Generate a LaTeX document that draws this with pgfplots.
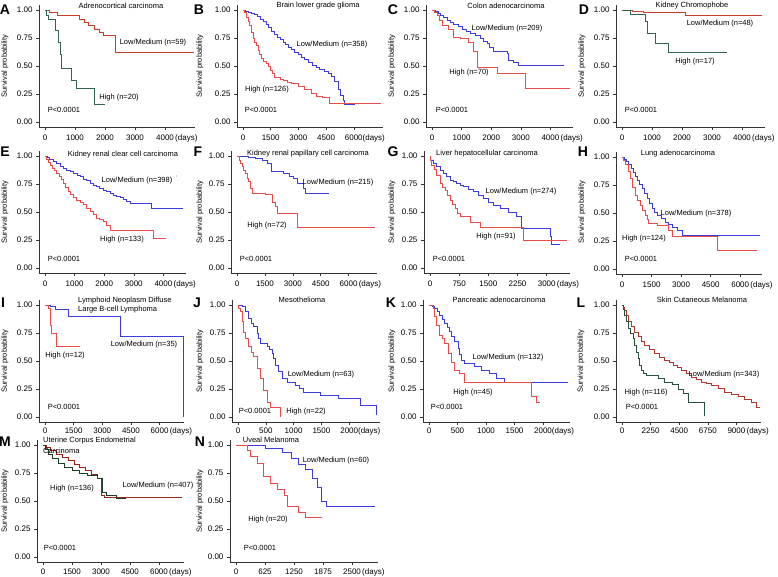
\documentclass[border=0pt]{standalone}
\usepackage{fontspec}
\setmainfont{Liberation Sans}
\usepackage{pgfplots}
\pgfplotsset{compat=1.18}
\definecolor{blueC}{RGB}{60,60,220}
\definecolor{redC}{RGB}{235,75,75}
\definecolor{adLow}{RGB}{200,60,40}
\definecolor{adHigh}{RGB}{50,100,80}
\definecolor{lLow}{RGB}{180,55,45}
\definecolor{lHigh}{RGB}{40,80,60}
\definecolor{mLow}{RGB}{150,35,25}
\definecolor{mHigh}{RGB}{30,60,40}
\newcommand{\lbl}{\fontsize{7.5}{8.5}\selectfont}
\newcommand{\tck}{\fontsize{8}{9}\selectfont}
\pgfplotsset{km/.style={
  axis x line*=bottom, axis y line*=left,
  ymin=-0.045, ymax=1.045, y=112pt,
  ytick={0,0.25,0.5,0.75,1},
  yticklabels={0.00,0.25,0.50,0.75,1.00},
  scaled x ticks=false, enlargelimits=false,
  /pgf/number format/assume math mode=true,
  tick align=outside, major tick length=3pt,
  tick style={black!80, line width=0.5pt},
  axis line style={black!80, line width=0.5pt},
  ticklabel style={font=\tck},
  xticklabel style={yshift=-1pt},
  anchor=origin, clip=false,
  every axis plot/.append style={line width=0.75pt, const plot, mark=none},
}}
\begin{document}
\begin{tikzpicture}
\useasboundingbox (0,0) rectangle (778pt,576pt);
% A
\begin{axis}[km, at={(45pt,454pt)}, x=0.030pt, xmin=-200, xmax=5000,
 xtick={0,1000,2000,3000,4000}, xticklabels={0,1000,2000,3000,\mbox{4000\rlap{\,(days)}}}]
\addplot[adLow] coordinates {(0,1)(150,0.98)(400,0.955)(1150,0.92)(1300,0.89)(1450,0.86)(1650,0.83)(1800,0.80)(1950,0.77)(2350,0.625)(4950,0.625)};
\addplot[adHigh] coordinates {(0,1)(50,0.95)(100,0.92)(330,0.82)(440,0.71)(500,0.60)(530,0.48)(890,0.375)(1055,0.30)(1630,0.16)(2000,0.16)};
\end{axis}
% B
\begin{axis}[km, at={(243pt,454pt)}, x=0.01847pt, xmin=-325, xmax=7600,
 xtick={0,1500,3000,4500,6000}, xticklabels={0,1500,3000,4500,\mbox{6000\rlap{(days)}}}]
\addplot[blueC] coordinates {(0,1)(150,0.99)(300,0.98)(450,0.97)(630,0.96)(800,0.94)(950,0.92)(1100,0.90)(1265,0.87)(1400,0.845)(1550,0.81)(1717,0.78)(1850,0.76)(2000,0.735)(2168,0.71)(2300,0.69)(2450,0.67)(2620,0.65)(2800,0.625)(2982,0.60)(3150,0.58)(3350,0.555)(3524,0.53)(3750,0.51)(3950,0.49)(4156,0.47)(4400,0.45)(4600,0.43)(4789,0.41)(4950,0.36)(5150,0.29)(5300,0.24)(5421,0.19)(5511,0.16)(6054,0.16)};
\addplot[redC] coordinates {(0,1)(90,0.976)(180,0.93)(270,0.90)(361,0.86)(450,0.80)(542,0.75)(630,0.71)(723,0.68)(810,0.64)(904,0.60)(1000,0.57)(1084,0.545)(1250,0.52)(1355,0.50)(1500,0.46)(1600,0.43)(1717,0.40)(2000,0.385)(2168,0.37)(2400,0.355)(2620,0.345)(3000,0.32)(3343,0.29)(3700,0.26)(3975,0.23)(4300,0.22)(4698,0.17)(7500,0.17)};
\end{axis}
% C
\begin{axis}[km, at={(432pt,454pt)}, x=0.0296pt, xmin=-200, xmax=4750,
 xtick={0,1000,2000,3000,4000}, xticklabels={0,1000,2000,3000,\mbox{4000\rlap{\,(days)}}}]
\addplot[blueC] coordinates {(0,1)(100,0.985)(200,0.97)(282,0.955)(400,0.93)(507,0.91)(620,0.89)(732,0.875)(880,0.85)(1014,0.83)(1150,0.81)(1296,0.79)(1450,0.77)(1634,0.746)(1750,0.72)(1860,0.70)(1950,0.67)(2085,0.627)(2535,0.61)(2592,0.55)(2750,0.53)(2930,0.507)(4450,0.507)};
\addplot[redC] coordinates {(0,1)(80,0.98)(170,0.955)(250,0.91)(338,0.866)(563,0.827)(732,0.76)(958,0.746)(1240,0.707)(1409,0.627)(1544,0.49)(2198,0.433)(3156,0.30)(4677,0.30)};
\end{axis}
% D
\begin{axis}[km, at={(622pt,454pt)}, x=0.030pt, xmin=-200, xmax=4750,
 xtick={0,1000,2000,3000,4000}, xticklabels={0,1000,2000,3000,\mbox{4000\rlap{\,(days)}}}]
\addplot[adLow] coordinates {(0,1)(330,0.99)(720,0.975)(2100,0.955)(4670,0.955)};
\addplot[adHigh] coordinates {(0,1)(280,0.965)(780,0.90)(860,0.79)(1110,0.70)(1560,0.62)(3500,0.62)};
\end{axis}
% E
\begin{axis}[km, at={(45pt,308pt)}, x=0.0296pt, xmin=-200, xmax=4750,
 xtick={0,1000,2000,3000,4000}, xticklabels={0,1000,2000,3000,\mbox{4000\rlap{\,(days)}}}]
\addplot[blueC] coordinates {(0,1)(80,0.985)(160,0.97)(282,0.95)(400,0.93)(520,0.91)(620,0.89)(732,0.875)(850,0.86)(960,0.845)(1080,0.83)(1183,0.816)(1300,0.795)(1400,0.78)(1520,0.76)(1634,0.742)(1750,0.725)(1850,0.71)(1960,0.695)(2085,0.68)(2200,0.665)(2300,0.65)(2420,0.64)(2535,0.632)(2650,0.615)(2760,0.595)(2874,0.58)(3606,0.534)(4677,0.534)};
\addplot[redC] coordinates {(0,1)(60,0.97)(110,0.945)(169,0.92)(250,0.89)(320,0.87)(394,0.846)(470,0.82)(540,0.79)(620,0.757)(700,0.72)(780,0.685)(845,0.653)(950,0.63)(1071,0.608)(1180,0.585)(1296,0.564)(1400,0.535)(1521,0.504)(1620,0.475)(1747,0.445)(1850,0.43)(1972,0.415)(2080,0.38)(2198,0.34)(3663,0.267)(4080,0.267)};
\end{axis}
% F
\begin{axis}[km, at={(237pt,308pt)}, x=0.0186pt, xmin=-320, xmax=7500,
 xtick={0,1500,3000,4500,6000}, xticklabels={0,1500,3000,4500,\mbox{6000\rlap{\,(days)}}}]
\addplot[blueC] coordinates {(0,1)(300,0.995)(627,0.99)(1000,0.975)(1343,0.964)(1612,0.934)(1845,0.86)(2507,0.845)(2800,0.82)(3045,0.80)(3224,0.755)(3582,0.71)(3672,0.666)(4925,0.666)};
\addplot[redC] coordinates {(0,1)(130,0.96)(200,0.93)(269,0.905)(360,0.87)(448,0.845)(540,0.80)(627,0.77)(716,0.71)(806,0.666)(1500,0.655)(1880,0.59)(2060,0.55)(2149,0.485)(3224,0.36)(7433,0.36)};
\end{axis}
% G
\begin{axis}[km, at={(430pt,308pt)}, x=0.0389pt, xmin=-155, xmax=3600,
 xtick={0,750,1500,2250,3000}, xticklabels={0,750,1500,2250,\mbox{3000\rlap{\,(days)}}}]
\addplot[blueC] coordinates {(0,1)(20,0.964)(90,0.93)(171,0.905)(260,0.875)(343,0.845)(430,0.815)(514,0.785)(600,0.77)(686,0.755)(770,0.74)(857,0.725)(990,0.70)(1114,0.68)(1240,0.65)(1371,0.62)(1500,0.59)(1629,0.56)(1800,0.53)(2014,0.50)(2229,0.463)(2357,0.352)(3086,0.278)(3129,0.212)(3343,0.212)};
\addplot[redC] coordinates {(0,1)(20,0.96)(43,0.92)(100,0.88)(171,0.83)(257,0.755)(320,0.72)(386,0.695)(450,0.65)(514,0.606)(580,0.57)(643,0.53)(710,0.49)(771,0.457)(1029,0.41)(1286,0.36)(2400,0.25)(3514,0.25)};
\end{axis}
% H
\begin{axis}[km, at={(622pt,307pt)}, x=0.0197pt, xmin=-300, xmax=7100,
 xtick={0,1500,3000,4500,6000}, xticklabels={0,1500,3000,4500,\mbox{6000\rlap{\,(days)}}}]
\addplot[blueC] coordinates {(0,1)(100,0.98)(200,0.96)(338,0.934)(450,0.90)(560,0.865)(676,0.83)(790,0.79)(900,0.755)(1014,0.72)(1140,0.675)(1268,0.63)(1400,0.585)(1521,0.54)(1650,0.51)(1775,0.48)(2000,0.45)(2197,0.42)(2350,0.40)(2535,0.376)(2800,0.345)(3042,0.30)(7014,0.30)};
\addplot[redC] coordinates {(0,1)(80,0.97)(169,0.934)(300,0.87)(423,0.81)(550,0.73)(676,0.66)(800,0.61)(930,0.57)(1050,0.52)(1183,0.48)(1270,0.44)(1352,0.41)(1775,0.386)(2366,0.346)(2535,0.29)(4817,0.166)(6845,0.166)};
\end{axis}
% I
\begin{axis}[km, at={(45pt,159pt)}, x=0.0191pt, xmin=-315, xmax=7300,
 xticklabel style={yshift=2pt},
 xtick={0,1500,3000,4500,6000}, xticklabels={0,1500,3000,4500,\mbox{6000\rlap{\,(days)}}}]
\addplot[blueC] coordinates {(0,1)(300,0.985)(525,0.964)(1225,0.895)(3937,0.716)(7227,0)};
\addplot[redC] coordinates {(0,1)(175,0.97)(262,0.82)(350,0.746)(612,0.627)(1837,0.627)};
\end{axis}
% J
\begin{axis}[km, at={(238pt,159pt)}, x=0.0556pt, xmin=-108, xmax=2550,
 xticklabel style={yshift=2pt},
 xtick={0,500,1000,1500,2000}, xticklabels={0,500,1000,1500,\mbox{2000\rlap{(days)}}}]
\addplot[blueC] coordinates {(0,1)(72,0.985)(132,0.94)(192,0.88)(240,0.84)(281,0.806)(341,0.746)(370,0.70)(401,0.657)(521,0.627)(560,0.60)(611,0.567)(640,0.52)(671,0.463)(731,0.403)(790,0.343)(880,0.313)(1030,0.284)(1100,0.255)(1180,0.224)(1479,0.194)(1808,0.164)(2198,0.10)(2497,0.02)};
\addplot[redC] coordinates {(0,1)(12,0.97)(42,0.94)(72,0.85)(102,0.76)(132,0.70)(192,0.627)(240,0.58)(281,0.537)(341,0.433)(401,0.343)(461,0.239)(521,0.134)(581,0.09)(760,0.0)};
\end{axis}
% K
\begin{axis}[km, at={(429pt,159pt)}, x=0.057pt, xmin=-105, xmax=2480,
 xticklabel style={yshift=2pt},
 xtick={0,500,1000,1500,2000}, xticklabels={0,500,1000,1500,\mbox{2000\rlap{(days)}}}]
\addplot[blueC] coordinates {(0,1)(60,0.985)(99,0.97)(140,0.94)(187,0.91)(230,0.87)(275,0.836)(320,0.80)(363,0.761)(400,0.72)(450,0.672)(509,0.612)(540,0.56)(567,0.507)(626,0.478)(801,0.448)(918,0.418)(1064,0.388)(1181,0.343)(1328,0.313)(2439,0.313)};
\addplot[redC] coordinates {(0,1)(70,0.97)(100,0.90)(129,0.82)(187,0.73)(230,0.70)(275,0.657)(333,0.567)(392,0.49)(450,0.418)(538,0.388)(626,0.305)(1795,0.18)(1883,0.134)(1942,0.134)};
\end{axis}
% L
\begin{axis}[km, at={(622pt,159pt)}, x=0.01271pt, xmin=-470, xmax=10900,
 xticklabel style={yshift=2pt},
 xtick={0,2250,4500,6750,9000}, xticklabels={0,2250,4500,6750,\mbox{9000\rlap{\,(days)}}}]
\addplot[lLow] coordinates {(0,1)(79,0.98)(200,0.95)(341,0.91)(540,0.855)(735,0.806)(1000,0.76)(1260,0.716)(1520,0.675)(1784,0.64)(2180,0.60)(2572,0.567)(2960,0.535)(3359,0.507)(3700,0.485)(4015,0.463)(4350,0.44)(4671,0.418)(5050,0.39)(5458,0.358)(5850,0.335)(6245,0.313)(6650,0.30)(7033,0.284)(7550,0.255)(8082,0.224)(8600,0.20)(9132,0.18)(9650,0.155)(10181,0.134)(10575,0.09)(10837,0.09)};
\addplot[lHigh] coordinates {(0,1)(100,0.96)(210,0.91)(340,0.85)(472,0.79)(650,0.75)(866,0.70)(1000,0.64)(1128,0.58)(1260,0.52)(1391,0.463)(1520,0.42)(1653,0.388)(1916,0.373)(2834,0.343)(3359,0.313)(4000,0.29)(4400,0.25)(4802,0.209)(5196,0.134)(6508,0.01)};
\end{axis}
% M
\begin{axis}[km, at={(43pt,19pt)}, x=0.01933pt, xmin=-310, xmax=7300,
 xticklabel style={yshift=1pt},
 xtick={0,1500,3000,4500,6000}, xticklabels={0,1500,3000,4500,\mbox{6000\rlap{\,(days)}}}]
\addplot[mLow] coordinates {(0,1)(150,0.98)(400,0.95)(700,0.92)(1000,0.89)(1300,0.86)(1600,0.83)(1900,0.80)(2200,0.77)(2500,0.74)(2800,0.70)(3000,0.55)(3200,0.53)(7200,0.53)};
\addplot[mHigh] coordinates {(0,1)(100,0.96)(300,0.92)(500,0.88)(800,0.84)(1100,0.80)(1500,0.77)(1900,0.75)(2300,0.73)(2800,0.70)(3050,0.58)(3300,0.55)(3800,0.52)(4300,0.52)};
\end{axis}
% N
\begin{axis}[km, at={(236pt,19pt)}, x=0.0464pt, xmin=-130, xmax=3050,
 xticklabel style={yshift=1pt},
 xtick={0,625,1250,1875,2500}, xticklabels={0,625,1250,1875,\mbox{2500\rlap{\,(days)}}}]
\addplot[blueC] coordinates {(0,1)(625,0.97)(1000,0.93)(1200,0.88)(1350,0.83)(1500,0.78)(1650,0.70)(1750,0.62)(1850,0.50)(1950,0.45)(3000,0.45)};
\addplot[redC] coordinates {(0,1)(250,0.95)(300,0.90)(450,0.84)(600,0.72)(750,0.66)(900,0.60)(1050,0.55)(1100,0.45)(1350,0.40)(1500,0.35)(1850,0.35)};
\end{axis}
% texts
\begin{scope}[x=1pt,y=-1pt,yshift=576pt]
\foreach \l/\px/\py in {A/5/10,B/199/10,C/393/10,D/584/10,E/5/152,F/198/152,G/393/152,H/583/152,I/3/303,J/197/303,K/391/303,L/581/303,M/5/442,N/200/442}
  \node[font=\fontsize{14}{14}\selectfont\bfseries, inner sep=0pt] at (\px,\py) {\l};
\foreach \px/\py in {5/66,200/66,392/66,582/66,5/212,200/212,392/212,582/212,5/361,200/361,392/361,581/361,5/501,200/501}
  \node[font=\fontsize{7.5}{8.5}\selectfont, rotate=90, inner sep=0pt] at (\px,\py) {Survival probability};
% A
\node[font=\lbl] at (121,6) {Adrenocortical carcinoma};
\node[font=\lbl] at (153,43) {Low/Medium (n=59)};
\node[font=\lbl] at (119,98) {High (n=20)};
\node[font=\lbl] at (64,110) {P<0.0001};
% B
\node[font=\lbl] at (318,6) {Brain lower grade glioma};
\node[font=\lbl] at (332,45) {Low/Medium (n=358)};
\node[font=\lbl] at (267,90) {High (n=126)};
\node[font=\lbl] at (261,110) {P<0.0001};
% C
\node[font=\lbl] at (506,6) {Colon adenocarcinoma};
\node[font=\lbl] at (507,29) {Low/Medium (n=209)};
\node[font=\lbl] at (469,73) {High (n=70)};
\node[font=\lbl] at (452,110) {P<0.0001};
% D
\node[font=\lbl] at (692,6) {Kidney Chromophobe};
\node[font=\lbl] at (720,24) {Low/Medium (n=48)};
\node[font=\lbl] at (695,62) {High (n=17)};
\node[font=\lbl] at (641,110) {P<0.0001};
% E
\node[font=\lbl] at (123,155) {Kidney renal clear cell carcinoma};
\node[font=\lbl] at (137,181) {Low/Medium (n=398)};
\node[font=\fontsize{5}{5}\selectfont] at (177,178) {'};
\node[font=\lbl] at (122,240) {High (n=133)};
\node[font=\lbl] at (64,259) {P<0.0001};
% F
\node[font=\lbl] at (308,154) {Kidney renal papillary cell carcinoma};
\node[font=\lbl] at (338,183) {Low/Medium (n=215)};
\node[font=\lbl] at (267,226) {High (n=72)};
\node[font=\lbl] at (256,259) {P<0.0001};
% G
\node[font=\lbl] at (487,154) {Liver hepatocellular carcinoma};
\node[font=\lbl] at (521,192) {Low/Medium (n=274)};
\node[font=\lbl] at (496,237) {High (n=91)};
\node[font=\lbl] at (449,259) {P<0.0001};
% H
\node[font=\lbl] at (678,154) {Lung adenocarcinoma};
\node[font=\lbl] at (696,214) {Low/Medium (n=378)};
\node[font=\lbl] at (644,239) {High (n=124)};
\node[font=\lbl] at (641,259) {P<0.0001};
% I
\node[font=\lbl, anchor=west, inner sep=0pt] at (78,301) {Lymphoid Neoplasm Diffuse};
\node[font=\lbl, anchor=west, inner sep=0pt] at (78,310) {Large B-cell Lymphoma};
\node[font=\lbl] at (144,345) {Low/Medium (n=35)};
\node[font=\lbl] at (65,356) {High (n=12)};
\node[font=\lbl] at (64,407) {P<0.0001};
% J
\node[font=\lbl] at (302,300) {Mesothelioma};
\node[font=\lbl] at (321,375) {Low/Medium (n=63)};
\node[font=\lbl] at (306,412) {High (n=22)};
\node[font=\lbl] at (255,411) {P<0.0001};
% K
\node[font=\lbl] at (499,300) {Pancreatic adenocarcinoma};
\node[font=\lbl] at (508,358) {Low/Medium (n=132)};
\node[font=\lbl] at (473,393) {High (n=45)};
\node[font=\lbl] at (447,407) {P<0.0001};
% L
\node[font=\lbl] at (702,300) {Skin Cutaneous Melanoma};
\node[font=\lbl] at (724,375) {Low/Medium (n=343)};
\node[font=\lbl] at (646,393) {High (n=116)};
\node[font=\lbl] at (642,407) {P<0.0001};
% M
\node[font=\lbl, anchor=west, inner sep=0pt] at (43,441) {Uterine Corpus Endometrial};
\node[font=\lbl, anchor=west, inner sep=0pt] at (43,451) {Carcinoma};
\node[font=\lbl] at (158,486) {Low/Medium (n=407)};
\node[font=\lbl] at (72,489) {High (n=136)};
\node[font=\lbl] at (60,548) {P<0.0001};
% N
\node[font=\lbl] at (271,440) {Uveal Melanoma};
\node[font=\lbl] at (336,461) {Low/Medium (n=60)};
\node[font=\lbl] at (268,520) {High (n=20)};
\node[font=\lbl] at (260,548) {P<0.0001};
\end{scope}
\end{tikzpicture}
\end{document}
